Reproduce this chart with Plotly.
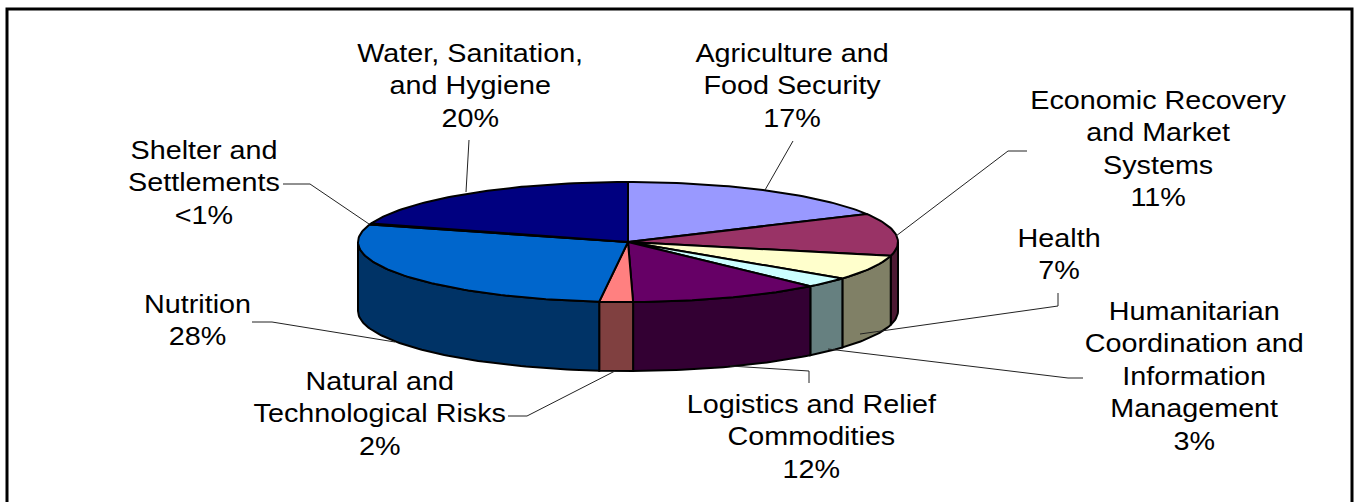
import math
import plotly.graph_objects as go

W, H = 1356, 502
categories = ["Agriculture and<br>Food Security", "Economic Recovery<br>and Market<br>Systems", "Health",
              "Humanitarian<br>Coordination and<br>Information<br>Management", "Logistics and Relief<br>Commodities",
              "Natural and<br>Technological Risks", "Nutrition", "Shelter and<br>Settlements", "Water, Sanitation,<br>and Hygiene"]
values = [17.3, 11.4, 6.7, 2.8, 11.5, 2.0, 28.0, 0.3, 20.0]
value_labels = ["17%", "11%", "7%", "3%", "12%", "2%", "28%", "<1%", "20%"]
top_colors = ["#9999FF", "#993366", "#FFFFCC", "#CCFFFF", "#660066", "#FF8080", "#0066CC", "#CCCCFF", "#000080"]
side_colors = ["#4D4D80", "#4D1933", "#808066", "#668080", "#330033", "#804040", "#003366", "#666680", "#000040"]

# pie geometry (pixels)
CX, CY, RX, RY, DEPTH = 628, 242, 270, 60, 69

label_pos = [(792, 85), (1158, 149), (1059, 254), (1194, 376), (811, 436), (380, 413), (197, 320), (204, 182), (470, 85)]
leaders = [
    [(765, 190), (793, 141)],
    [(896, 236), (1008, 151), (1027, 151)],
    [(860, 334), (1058, 306), (1058, 293)],
    [(828, 349), (1068, 378), (1083, 378)],
    [(730, 366), (809, 371), (809, 383)],
    [(615, 371), (527, 416), (508, 416)],
    [(395, 342), (272, 322), (252, 322)],
    [(369, 224), (310, 184), (283, 184)],
    [(466, 192), (469, 140)],
]


def pt(a, dz=0):
    return CX + RX * math.sin(a), CY - RY * math.cos(a) + dz


def arc(a0, a1, dz=0):
    n = max(2, int(abs(a1 - a0) / 0.02))
    return [pt(a0 + (a1 - a0) * i / n, dz) for i in range(n + 1)]


fig = go.Figure()
total = sum(values)
start = 0.0
angles = []
for v in values:
    end = start + v / total * 2 * math.pi
    angles.append((start, end))
    start = end

# visible side walls
for (a0, a1), col in zip(angles, side_colors):
    lo, hi = max(a0, math.pi / 2), min(a1, 3 * math.pi / 2)
    if hi <= lo:
        continue
    pts = arc(lo, hi) + arc(hi, lo, DEPTH)
    pts.append(pts[0])
    fig.add_trace(go.Scatter(x=[p[0] for p in pts], y=[p[1] for p in pts], mode="lines", fill="toself",
                             fillcolor=col, line=dict(color="black", width=2), hoverinfo="skip"))

# top faces
for (a0, a1), col in zip(angles, top_colors):
    pts = [(CX, CY)] + arc(a0, a1) + [(CX, CY)]
    fig.add_trace(go.Scatter(x=[p[0] for p in pts], y=[p[1] for p in pts], mode="lines", fill="toself",
                             fillcolor=col, line=dict(color="black", width=2), hoverinfo="skip"))

# leader lines
for seg in leaders:
    fig.add_trace(go.Scatter(x=[p[0] for p in seg], y=[p[1] for p in seg], mode="lines",
                             line=dict(color="#222222", width=1), hoverinfo="skip"))

annotations = []
for cat, lab, (x, y) in zip(categories, value_labels, label_pos):
    annotations.append(dict(x=x, y=y, xref="x", yref="y", showarrow=False, align="center",
                            text=cat + "<br>" + lab.replace("<", "&lt;"),
                            font=dict(family="Liberation Sans", size=25, color="black")))

fig.update_layout(
    width=W, height=H, margin=dict(l=0, r=0, t=0, b=0), showlegend=False,
    paper_bgcolor="white", plot_bgcolor="white", annotations=annotations,
    xaxis=dict(range=[0, W], visible=False, fixedrange=True),
    yaxis=dict(range=[H, 0], visible=False, fixedrange=True),
    shapes=[dict(type="rect", xref="x", yref="y", x0=7, y0=9, x1=1352, y1=520,
                 line=dict(color="black", width=3), fillcolor="rgba(0,0,0,0)", layer="below")],
)

# the reference's text is stretched horizontally by the same factor as its picture
stretch_js = """
document.body.style.margin='0';
document.querySelectorAll('.annotation-text').forEach(function(t){
  var b=t.getBBox(), c=b.x+b.width/2;
  t.setAttribute('transform','translate('+c+' 0) scale(1.15 1) translate('+(-c)+' 0)');
});
"""
fig.write_html("out.html", post_script=stretch_js, config={"displayModeBar": False})
